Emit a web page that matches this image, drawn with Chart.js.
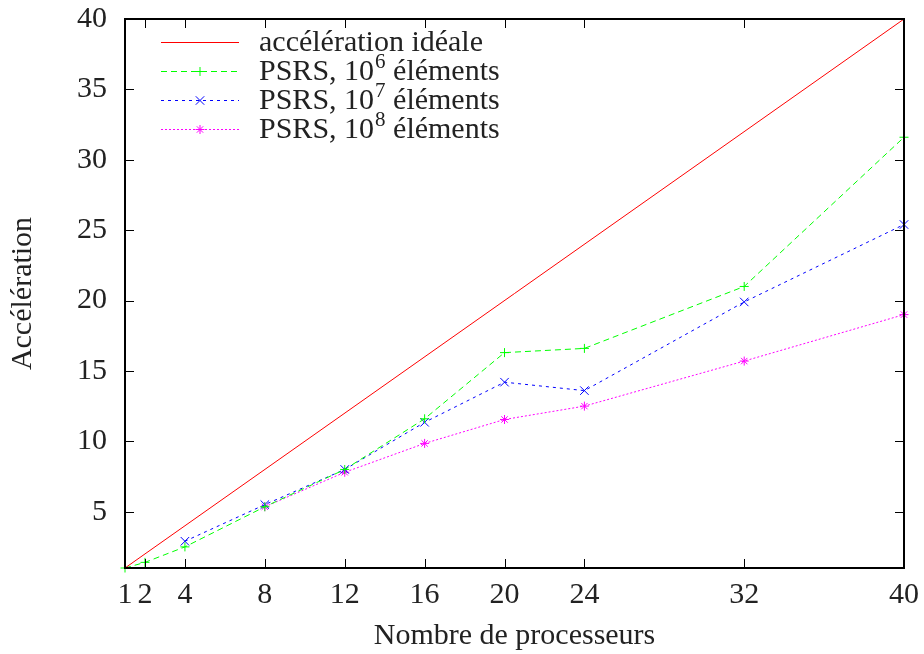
<!DOCTYPE html>
<html>
<head>
<meta charset="utf-8">
<script src="https://cdn.jsdelivr.net/npm/chart.js@4"></script>
<style>
  html, body { margin: 0; padding: 0; background: #fff; }
  #wrap { width: 924px; height: 654px; }
</style>
</head>
<body>
<div id="wrap"><canvas id="myChart" width="924" height="654"></canvas></div>
<script>
// values
const xTicks = [1, 2, 4, 8, 12, 16, 20, 24, 32, 40];
const yTicks = [5, 10, 15, 20, 25, 30, 35, 40];

const idealX = [1, 40];
const idealY = [1, 40];

const procs6 = [1, 2, 4, 8, 12, 16, 20, 24, 32, 40];
const speedup6 = [1, 1.4, 2.5, 5.35, 8.0, 11.6, 16.3, 16.6, 21.0, 31.6];

const procs7 = [4, 8, 12, 16, 20, 24, 32, 40];
const speedup7 = [2.9, 5.5, 8.0, 11.35, 14.2, 13.6, 19.9, 25.4];

const procs8 = [8, 12, 16, 20, 24, 32, 40];
const speedup8 = [5.35, 7.8, 9.85, 11.55, 12.5, 15.7, 19.0];

const seriesLabels = ['accélération idéale', 'PSRS, 10^6 éléments', 'PSRS, 10^7 éléments', 'PSRS, 10^8 éléments'];

const FONT = '"Liberation Serif", "DejaVu Serif", serif';

function pairs(xs, ys) {
  return xs.map((x, i) => ({ x: x, y: ys[i] }));
}

// frame + inward tick marks on all four sides, gnuplot style
const framePlugin = {
  id: 'frame',
  afterDraw(chart) {
    const c = chart.ctx, a = chart.chartArea;
    const xs = chart.scales.x, ys = chart.scales.y;
    const len = 9;
    c.save();
    c.strokeStyle = '#000';
    c.lineWidth = 1;
    c.beginPath();
    xTicks.forEach(v => {
      const px = Math.round(xs.getPixelForValue(v)) + 0.5;
      c.moveTo(px, a.bottom); c.lineTo(px, a.bottom - len);
      c.moveTo(px, a.top); c.lineTo(px, a.top + len);
    });
    yTicks.forEach(v => {
      const py = Math.round(ys.getPixelForValue(v)) + 0.5;
      c.moveTo(a.left, py); c.lineTo(a.left + len, py);
      c.moveTo(a.right, py); c.lineTo(a.right - len, py);
    });
    c.stroke();
    c.lineWidth = 2;
    c.strokeRect(a.left, a.top, a.right - a.left, a.bottom - a.top);
    c.restore();
  }
};

// legend inside the plot, top left
const keyPlugin = {
  id: 'key',
  afterDatasetsDraw(chart) {
    const c = chart.ctx;
    const x0 = 161, x1 = 239, tx = 259;
    const rows = [42, 71, 100, 129];
    c.save();
    chart.data.datasets.forEach((ds, i) => {
      const y = rows[i];
      c.strokeStyle = ds.borderColor;
      c.lineWidth = 1;
      c.setLineDash(ds.borderDash || []);
      c.beginPath();
      c.moveTo(x0, y + 0.5); c.lineTo(x1, y + 0.5);
      c.stroke();
      c.setLineDash([]);
      if (ds.pointRadius > 0) {
        Chart.helpers.drawPoint(c, {
          pointStyle: ds.pointStyle, radius: ds.pointRadius, borderWidth: 1, rotation: 0
        }, 200, y + 0.5);
      }
      // text, with the exponent raised
      c.fillStyle = '#222';
      c.textBaseline = 'alphabetic';
      c.textAlign = 'left';
      const parts = ds.label.split('^');
      let x = tx;
      const base = y + 9;
      c.font = '30px ' + FONT;
      c.fillText(parts[0], x, base);
      x += c.measureText(parts[0]).width;
      if (parts.length > 1) {
        const sup = parts[1].charAt(0), rest = parts[1].slice(1);
        c.font = '21px ' + FONT;
        c.fillText(sup, x + 1, base - 12);
        x += c.measureText(sup).width + 1;
        c.font = '30px ' + FONT;
        c.fillText(rest, x, base);
      }
    });
    c.restore();
  }
};

const ctx = document.getElementById('myChart');

new Chart(ctx, {
  type: 'line',
  data: {
    datasets: [
      {
        label: seriesLabels[0],
        data: pairs(idealX, idealY),
        borderColor: '#ff0000',
        borderWidth: 1,
        pointRadius: 0,
        clip: false
      },
      {
        label: seriesLabels[1],
        data: pairs(procs6, speedup6),
        borderColor: '#00ff00',
        borderWidth: 1,
        borderDash: [6, 4],
        pointStyle: 'cross',
        pointRadius: 4.5,
        pointBorderWidth: 1,
        clip: false
      },
      {
        label: seriesLabels[2],
        data: pairs(procs7, speedup7),
        borderColor: '#0000ff',
        borderWidth: 1,
        borderDash: [3, 4],
        pointStyle: 'crossRot',
        pointRadius: 6,
        pointBorderWidth: 1,
        clip: false
      },
      {
        label: seriesLabels[3],
        data: pairs(procs8, speedup8),
        borderColor: '#ff00ff',
        borderWidth: 1,
        borderDash: [2, 2],
        pointStyle: 'star',
        pointRadius: 4.5,
        pointBorderWidth: 1,
        clip: false
      }
    ]
  },
  options: {
    responsive: false,
    animation: false,
    devicePixelRatio: 1,
    layout: { padding: { top: 19, right: 20, left: 0, bottom: 0 } },
    plugins: {
      legend: { display: false },
      tooltip: { enabled: false }
    },
    scales: {
      x: {
        type: 'linear',
        min: 1,
        max: 40,
        afterBuildTicks: s => { s.ticks = xTicks.map(v => ({ value: v })); },
        afterFit: s => { s.height = 86; s.paddingLeft = 0; s.paddingRight = 0; },
        grid: { display: false, drawTicks: false },
        border: { display: false },
        ticks: {
          autoSkip: false,
          maxRotation: 0,
          padding: 9,
          color: '#222',
          font: { family: FONT, size: 30 }
        },
        title: {
          display: true,
          text: 'Nombre de processeurs',
          color: '#222',
          font: { family: FONT, size: 30, lineHeight: 1.2 },
          padding: { top: 0, bottom: 0 }
        }
      },
      y: {
        type: 'linear',
        min: 1,
        max: 40,
        afterBuildTicks: s => { s.ticks = yTicks.map(v => ({ value: v })); },
        afterFit: s => { s.width = 125; s.paddingTop = 0; s.paddingBottom = 0; },
        grid: { display: false, drawTicks: false },
        border: { display: false },
        ticks: {
          padding: 18,
          color: '#222',
          font: { family: FONT, size: 30 }
        },
        title: {
          display: true,
          text: 'Accélération',
          color: '#222',
          font: { family: FONT, size: 30, lineHeight: 1.2 },
          padding: { top: 5, bottom: 0 }
        }
      }
    }
  },
  plugins: [framePlugin, keyPlugin]
});
</script>
</body>
</html>
